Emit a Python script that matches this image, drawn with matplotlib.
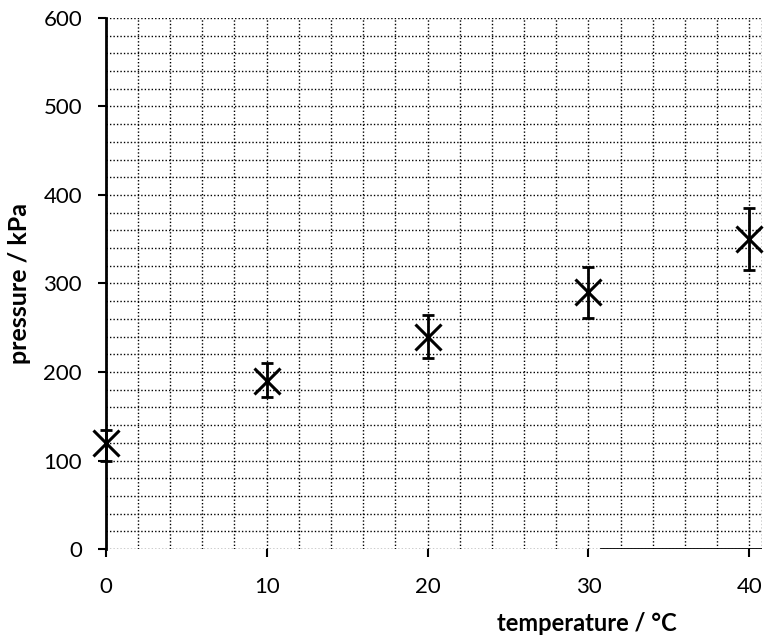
import matplotlib.pyplot as plt
from matplotlib.ticker import MultipleLocator

# data
temperature = [0, 10, 20, 30, 40]
pressure = [120, 190, 240, 290, 350]
err_low = [20, 18, 24, 29, 35]
err_high = [14, 20, 24, 29, 35]

plt.rcParams['font.family'] = ['Lato', 'DejaVu Sans']

fig = plt.figure(figsize=(7.66, 6.41), dpi=100)
ax = fig.add_axes([0.138, 0.1435, 0.857, 0.8285])

eb = ax.errorbar(temperature, pressure, yerr=[err_low, err_high], fmt='none',
                 ecolor='black', elinewidth=2, capsize=4, capthick=2, zorder=3)
for art in eb.lines[1] + eb.lines[2]:
    art.set_clip_on(False)
ax.plot(temperature, pressure, linestyle='none', marker='x', markersize=19,
        markeredgewidth=2.2, color='black', zorder=4, clip_on=False)

ax.set_xlim(0, 40.8)
ax.set_ylim(0, 600)
ax.xaxis.set_major_locator(MultipleLocator(10))
ax.xaxis.set_minor_locator(MultipleLocator(2))
ax.yaxis.set_major_locator(MultipleLocator(100))
ax.yaxis.set_minor_locator(MultipleLocator(20))

# dotted graph-paper grid
ax.grid(which='both', color='black', linestyle=(0, (1, 1.5)), linewidth=1)
ax.set_axisbelow(True)

ax.tick_params(which='major', direction='out', length=6, width=1.5,
               labelsize=16, colors='black')
ax.tick_params(axis='y', pad=11)
ax.tick_params(axis='x', pad=14)
ax.tick_params(which='minor', length=0)

for s in ['top', 'right']:
    ax.spines[s].set_visible(False)
ax.spines['bottom'].set_visible(False)
ax.spines['left'].set_linewidth(2)
ax.axhline(0, xmin=30.8 / 40.8, xmax=1, color='black', linewidth=2)
ax.axvline(40.8, color='black', linestyle=(0, (1, 1.5)), linewidth=1)

fig.text(0.026, 0.558, 'pressure / kPa', rotation=90, fontsize=18,
         fontweight='bold', ha='center', va='center')
fig.text(0.766, 0.027, 'temperature / °C', fontsize=17, fontweight='bold',
         ha='center', va='center')

fig.savefig('out.png', dpi=100)
